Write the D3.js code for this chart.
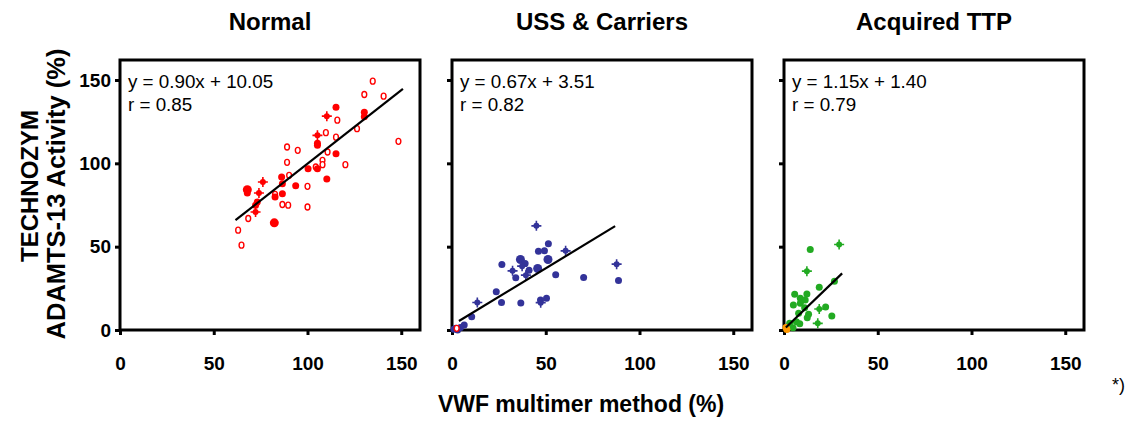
<!DOCTYPE html>
<html><head><meta charset="utf-8">
<script src="https://cdn.jsdelivr.net/npm/d3@7"></script>
<style>
html,body{margin:0;padding:0;background:#fff;overflow:hidden;}
text{font-family:"Liberation Sans",Arial,sans-serif;}
</style></head>
<body><svg id="c" width="1137" height="421"></svg>
<script>
// ---- data ----
const panelTitles = ["Normal", "USS & Carriers", "Acquired TTP"];
const equations = ["y = 0.90x + 10.05", "y = 0.67x + 3.51", "y = 1.15x + 1.40"];
const rValues = ["r = 0.85", "r = 0.82", "r = 0.79"];
const xTicks = [0, 50, 100, 150];
const yTicks = [0, 50, 100, 150];

// Normal: x, y, marker kind (f filled, F big filled, p filled cross, o open)
const normalX = [115.2,110.3,130.3,130.3,105.3,105.3,105.3,109.8,115.2,110.7,115.2,126.4,89.1,94.8,89.1,100.3,104.4,105.3,108,108,120.2,110.3,86.2,86.6,90.2,93.7,76.2,67.9,67.9,74.1,82.7,82.7,86.6,100,86.6,89.7,100,72.3,72.3,68.4,82.3,63,64.8,134.8,130.3,140.6,148.5,73.2,115.9];
const normalY = [133.7,128.3,130.7,128,116.8,112,110.8,118.4,115.7,106.8,105.8,120.8,109.8,107.8,100.6,96.8,97.8,96.8,101.8,99.2,99.2,90.6,91.8,87.8,92.8,86.6,88.8,84.2,82.2,82.2,81.4,79.8,81.8,86.2,75.3,74.9,73.8,74.9,70.8,66.9,64.3,59.9,50.9,149.3,141.3,140.3,113.2,76.8,125.9];
const normalKind = ["f","p","f","f","p","f","f","o","o","o","f","o","o","o","o","f","o","f","o","o","o","f","f","f","o","f","p","F","f","p","o","f","f","o","o","o","o","f","p","o","F","o","o","o","o","o","o","f","o"];

const ussX = [45,51.4,46.1,49.3,60.6,51.2,36.5,26.6,39,37.4,45.7,41.1,32.3,39.4,55.3,34,70.2,87.8,88.8,23.6,26.4,36.7,47.2,50.4,47.3,13.5,10.5,6.5,4.5,2,1,3];
const ussY = [62.5,51.7,47.3,47.5,47.5,42.3,42.3,39.3,39.9,38.3,36.9,35.9,35.5,32.9,33.1,31.3,31.5,39.5,29.7,22.9,16.5,16.2,18,19,16.4,16.5,8,3,1.5,1,0.5,0];
const ussKind = ["p","f","f","f","p","F","F","f","f","p","F","f","p","p","f","f","f","p","f","f","f","f","f","f","p","p","f","f","f","f","f","f"];
const ussRedX = [2.5];
const ussRedY = [1];

const ttpX = [29.4,14,12.2,18.8,26.9,5.7,12.2,8.7,11.3,8.7,5,11,22.2,18.8,25.5,7.8,13.1,12.4,18,6.6,8.4,4.8,3];
const ttpY = [51.3,48.3,35.3,25.7,29.3,21.4,21.6,19,18,16,15,13.4,13.8,12.6,8.4,10,9.4,7.4,4,5,3.8,1.4,4];
const ttpKind = ["p","f","p","f","f","f","f","f","f","f","f","f","f","p","f","f","f","f","p","f","f","f","f"];
const ttpOrangeX = [1, 1.5];
const ttpOrangeY = [1.5, 0.3];

// regression line end points (x0, y0, x1, y1)
const fitNormal = [61.6, 65.9, 150.9, 144.7];
const fitUss = [3.7, 5.4, 87, 62.3];
const fitTtp = [1, 1.5, 31, 34];

const yTitle1 = "TECHNOZYM";
const yTitle2 = "ADAMTS-13 Activity (%)";
const xTitle = "VWF multimer method (%)";
const footnote = "*)";

// ---- layout ----
const svg = d3.select("#c");
svg.append("rect").attr("width",1137).attr("height",421).attr("fill","#fff");
const lefts = [120, 452, 784];
const panelW = 300, panelTop = 60, panelBottom = 330;

const panels = [
  {pts: normalX.map((x,i)=>({x, y:normalY[i], k:normalKind[i], c:"#ff0000"})), fit: fitNormal},
  {pts: ussX.map((x,i)=>({x, y:ussY[i], k:ussKind[i], c:"#333399"}))
        .concat(ussRedX.map((x,i)=>({x, y:ussRedY[i], k:"o", c:"#ff0000"}))), fit: fitUss},
  {pts: ttpX.map((x,i)=>({x, y:ttpY[i], k:ttpKind[i], c:"#22aa22"}))
        .concat(ttpOrangeX.map((x,i)=>({x, y:ttpOrangeY[i], k:"f", c:"#ff9900"}))), fit: fitTtp}
];

panels.forEach((p, pi) => {
  const L = lefts[pi];
  const x = d3.scaleLinear().domain([0,160]).range([L, L+panelW]);
  const y = d3.scaleLinear().domain([0,162]).range([panelBottom, panelTop]);
  const g = svg.append("g");

  g.append("text").attr("x", L+panelW/2).attr("y", 30).attr("text-anchor","middle")
    .attr("font-size", 24).attr("font-weight","bold").text(panelTitles[pi]);

  const xa = g.append("g").attr("transform",`translate(0,${panelBottom})`)
    .call(d3.axisBottom(x).tickValues(xTicks).tickSize(5).tickPadding(22).tickFormat(d3.format("d")));
  xa.select(".domain").remove();
  xa.selectAll("line").attr("stroke","#000").attr("stroke-width",3);
  xa.selectAll("text").attr("font-size",19).attr("font-weight","bold").attr("fill","#000")
    .attr("font-family","Liberation Sans, Arial, sans-serif");

  const ya = g.append("g").attr("transform",`translate(${L},0)`)
    .call(d3.axisLeft(y).tickValues(yTicks).tickSize(5).tickPadding(4).tickFormat(pi===0 ? d3.format("d") : ()=>""));
  ya.select(".domain").remove();
  ya.selectAll("line").attr("stroke","#000").attr("stroke-width",3);
  ya.selectAll("text").attr("font-size",19).attr("font-weight","bold").attr("fill","#000")
    .attr("font-family","Liberation Sans, Arial, sans-serif");

  g.append("rect").attr("x", x(0)).attr("y", y(162)).attr("width", x(160)-x(0)).attr("height", y(0)-y(162))
    .attr("fill","none").attr("stroke","#000").attr("stroke-width",3);

  g.append("text").attr("x", L+8).attr("y", 88).attr("font-size",18.8).text(equations[pi]);
  g.append("text").attr("x", L+8).attr("y", 111).attr("font-size",18.8).text(rValues[pi]);

  const pg = g.append("g");
  p.pts.forEach(d => {
    const cx = x(d.x), cy = y(d.y);
    if (d.k === "o") {
      pg.append("ellipse").attr("cx",cx).attr("cy",cy).attr("rx",2.4).attr("ry",3)
        .attr("fill","#fff").attr("stroke",d.c).attr("stroke-width",1.4);
    } else {
      const r = d.k === "F" ? 4.5 : (d.k === "p" ? 3 : 3.5);
      pg.append("circle").attr("cx",cx).attr("cy",cy).attr("r",r).attr("fill",d.c);
      if (d.k === "p") {
        pg.append("path").attr("d",`M${cx-5},${cy}H${cx+5}M${cx},${cy-5}V${cy+5}`)
          .attr("stroke",d.c).attr("stroke-width",1.6);
      }
    }
  });

  g.append("line").attr("x1", x(p.fit[0])).attr("y1", y(p.fit[1]))
    .attr("x2", x(p.fit[2])).attr("y2", y(p.fit[3]))
    .attr("stroke","#000").attr("stroke-width",2.2);
});

svg.append("text").attr("transform","translate(38,186) rotate(-90)").attr("text-anchor","middle")
  .attr("font-size",24).attr("font-weight","bold").text(yTitle1);
svg.append("text").attr("transform","translate(65,194) rotate(-90)").attr("text-anchor","middle")
  .attr("font-size",25.5).attr("font-weight","bold").text(yTitle2);
svg.append("text").attr("x", 581).attr("y", 412).attr("text-anchor","middle")
  .attr("font-size",23).attr("font-weight","bold").text(xTitle);
svg.append("text").attr("x", 1112).attr("y", 391).attr("font-size",18).text(footnote);
</script></body></html>
